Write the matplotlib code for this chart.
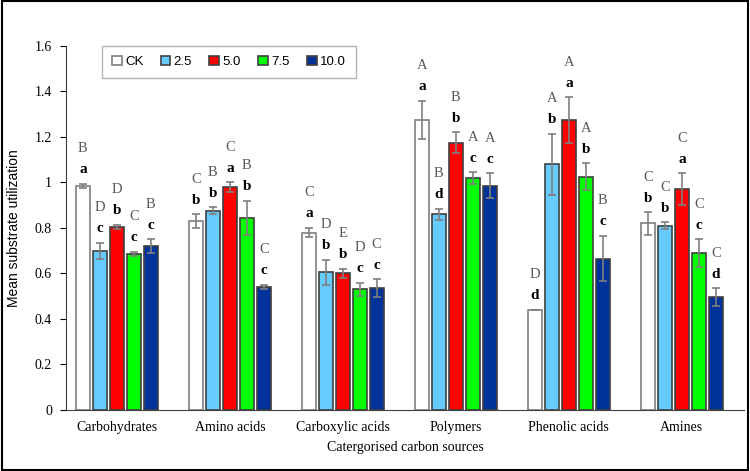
import matplotlib
matplotlib.use("Agg")
import matplotlib.pyplot as plt
import numpy as np
from matplotlib.patches import Rectangle

categories = ["Carbohydrates", "Amino acids", "Carboxylic acids", "Polymers", "Phenolic acids", "Amines"]
series = ["CK", "2.5", "5.0", "7.5", "10.0"]
ck = [0.985, 0.83, 0.78, 1.275, 0.44, 0.82]
v25 = [0.70, 0.875, 0.605, 0.86, 1.08, 0.81]
v50 = [0.805, 0.98, 0.60, 1.175, 1.275, 0.97]
v75 = [0.685, 0.845, 0.53, 1.02, 1.025, 0.69]
v100 = [0.72, 0.54, 0.535, 0.985, 0.665, 0.495]
e_ck = [0.01, 0.03, 0.02, 0.085, 0.0, 0.05]
e25 = [0.035, 0.015, 0.055, 0.025, 0.135, 0.015]
e50 = [0.01, 0.02, 0.02, 0.045, 0.10, 0.07]
e75 = [0.01, 0.075, 0.03, 0.025, 0.06, 0.06]
e100 = [0.03, 0.01, 0.04, 0.055, 0.10, 0.04]
lower_ck = ["a", "b", "a", "a", "d", "b"]
lower25 = ["c", "b", "b", "d", "b", "b"]
lower50 = ["b", "a", "b", "b", "a", "a"]
lower75 = ["c", "b", "c", "c", "b", "c"]
lower100 = ["c", "c", "c", "c", "c", "d"]
upper_ck = ["B", "C", "C", "A", "D", "C"]
upper25 = ["D", "B", "D", "B", "A", "C"]
upper50 = ["D", "C", "E", "B", "A", "C"]
upper75 = ["C", "B", "D", "A", "A", "C"]
upper100 = ["B", "C", "C", "A", "B", "C"]
yticks = [0, 0.2, 0.4, 0.6, 0.8, 1, 1.2, 1.4, 1.6]
ytick_labels = ["0", "0.2", "0.4", "0.6", "0.8", "1", "1.2", "1.4", "1.6"]

values = [ck, v25, v50, v75, v100]
errors = [e_ck, e25, e50, e75, e100]
lowers = [lower_ck, lower25, lower50, lower75, lower100]
uppers = [upper_ck, upper25, upper50, upper75, upper100]
colors = ["#FFFFFF", "#66CCFF", "#FF0000", "#00FF00", "#003399"]
edges = ["#7F7F7F", "#404040", "#404040", "#404040", "#404040"]

serif = "Liberation Serif"
sans = "Liberation Sans"

fig = plt.figure(figsize=(7.5, 4.71), dpi=100)
ax = fig.add_axes([0.088, 0.1295, 0.904, 0.773])

x = np.arange(len(categories))
pitch = 0.15
width = 0.125
for i, (vals, errs, lo, up) in enumerate(zip(values, errors, lowers, uppers)):
    pos = x + (i - 2) * pitch
    ax.bar(pos, vals, width=width, color=colors[i], edgecolor=edges[i], linewidth=1.2,
           label=series[i], zorder=2)
    ax.errorbar(pos, vals, yerr=errs, fmt="none", ecolor="#7F7F7F", elinewidth=1.2,
                capsize=3, capthick=1.2, zorder=3)
    for p, v, e, l, u in zip(pos, vals, errs, lo, up):
        top = v + e
        ax.annotate(l, (p, top), xytext=(0, 14), textcoords="offset pixels",
                    ha="center", va="center", fontsize=11, fontweight="semibold",
                    family=serif, color="black")
        ax.annotate(u, (p, top), xytext=(0, 35), textcoords="offset pixels",
                    ha="center", va="center", fontsize=10.5,
                    family=serif, color="#595959")

ax.set_xlim(-0.45, 5.55)
ax.set_ylim(0, 1.6)
ax.set_yticks(yticks)
ax.set_yticklabels(ytick_labels, family=serif, fontsize=10)
ax.set_xticks(x)
ax.set_xticklabels(categories, family=serif, fontsize=10)
ax.tick_params(axis="x", length=0, pad=8)
ax.tick_params(axis="y", length=4, direction="out", width=0.8, pad=6)
for s in ["top", "right"]:
    ax.spines[s].set_visible(False)
ax.spines["left"].set_color("#404040")
ax.spines["bottom"].set_color("#404040")
ax.set_xlabel("Catergorised carbon sources", family=serif, fontsize=10, labelpad=5)
ax.set_ylabel("Mean substrate utilization", family=sans, fontsize=10, labelpad=10)

leg = ax.legend(loc="upper left", bbox_to_anchor=(0.053, 1.0), ncol=5, frameon=True,
                fancybox=False, edgecolor="#A0A0A0", prop={"family": sans, "size": 9.5},
                handlelength=0.75, handleheight=0.75, handletextpad=0.25, columnspacing=1.3,
                borderpad=0.75, borderaxespad=0.0)
leg.get_frame().set_linewidth(1.0)

fig.patches.append(Rectangle((0.002, 0.003), 0.995, 0.994, transform=fig.transFigure,
                             fill=False, edgecolor="black", linewidth=1.5))

fig.savefig("out.png", dpi=100)
